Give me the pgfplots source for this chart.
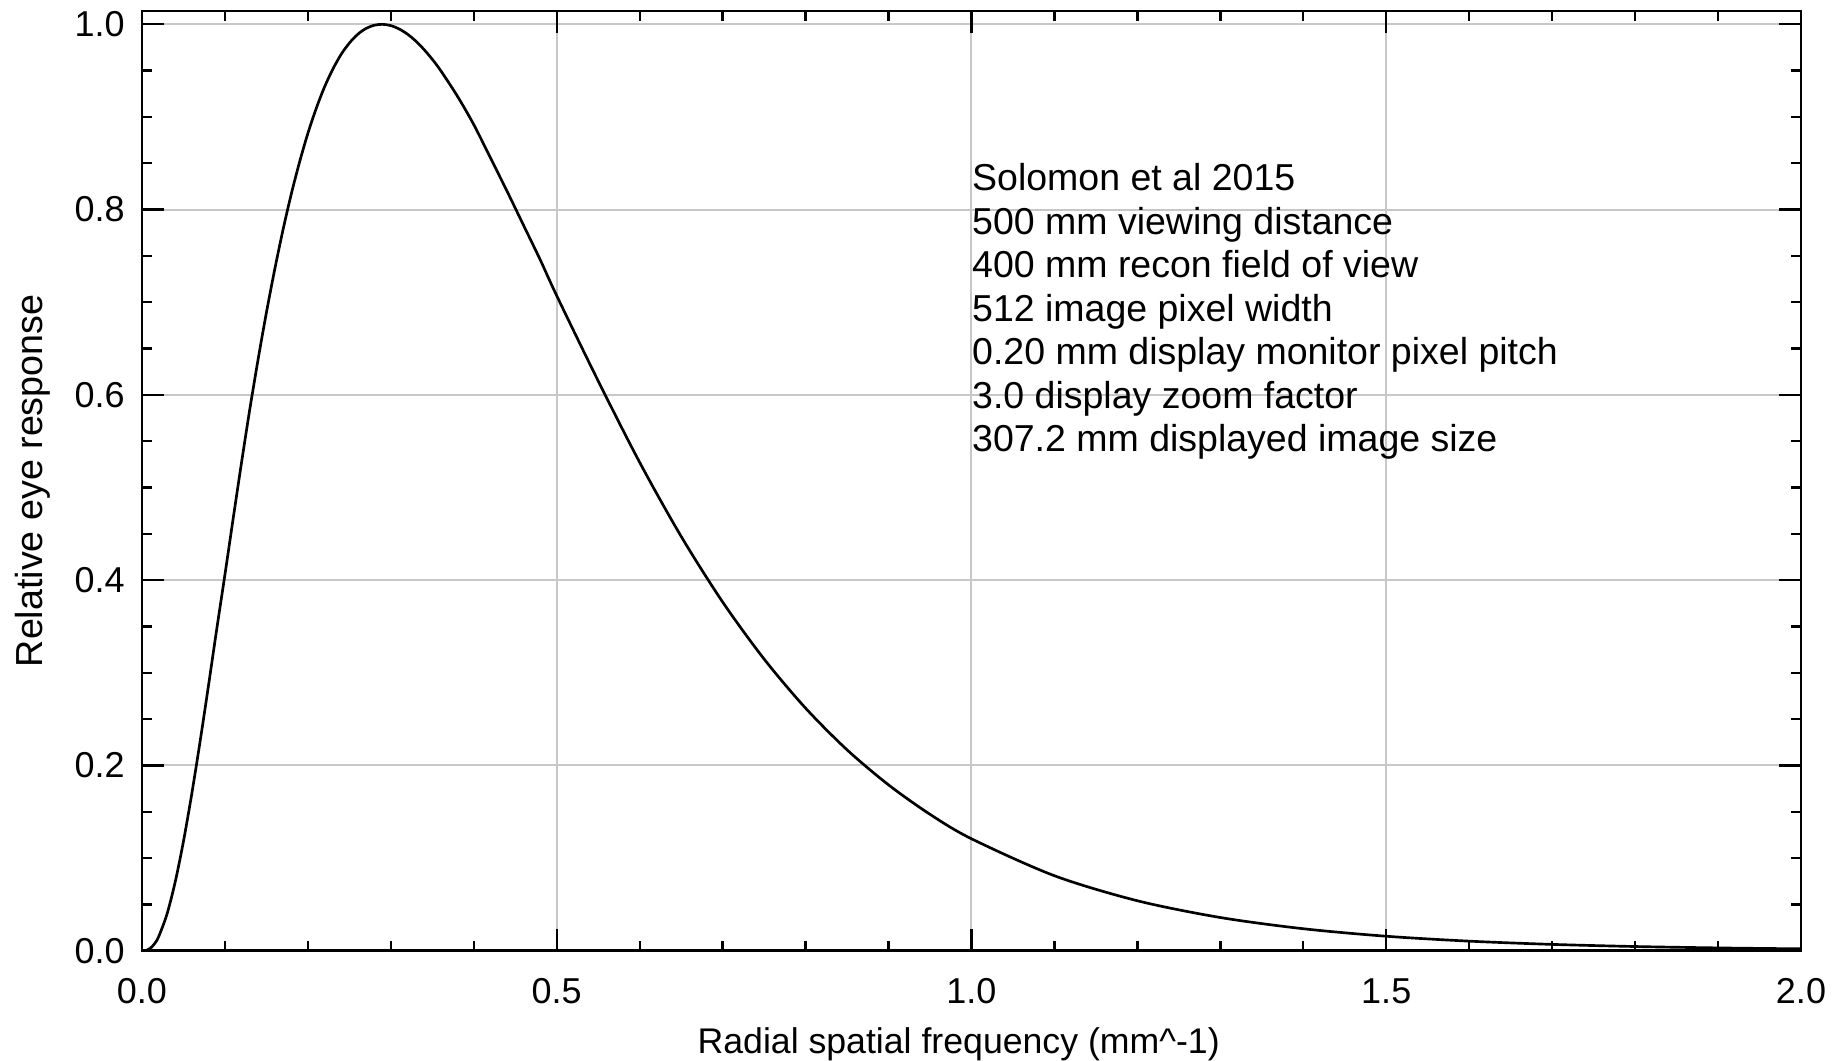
\documentclass[border=0pt]{standalone}
\usepackage{fontspec}
\setmainfont{Liberation Sans}
\usepackage{pgfplots}
\pgfplotsset{compat=1.18}
\usepackage{pgfplotstable}
\pgfplotstableread{
f v
0.000 0.0000
0.005 0.0004
0.010 0.0026
0.015 0.0074
0.020 0.0150
0.030 0.0391
0.040 0.0741
0.050 0.1181
0.060 0.1693
0.070 0.2256
0.080 0.2852
0.090 0.3465
0.100 0.4060
0.110 0.4670
0.120 0.5270
0.130 0.5847
0.140 0.6385
0.150 0.6889
0.160 0.7354
0.170 0.7782
0.180 0.8169
0.190 0.8515
0.200 0.8824
0.210 0.9091
0.220 0.9323
0.230 0.9515
0.240 0.9675
0.250 0.9798
0.260 0.9892
0.270 0.9955
0.280 0.9990
0.290 1.0000
0.300 0.9986
0.310 0.9950
0.320 0.9894
0.330 0.9820
0.340 0.9728
0.350 0.9622
0.360 0.9502
0.380 0.9228
0.400 0.8917
0.420 0.8560
0.440 0.8200
0.460 0.7830
0.480 0.7460
0.500 0.7070
0.550 0.6150
0.600 0.5271
0.650 0.4472
0.700 0.3764
0.750 0.3148
0.800 0.2618
0.850 0.2168
0.900 0.1790
0.950 0.1472
1.000 0.1208
1.100 0.0809
1.200 0.0539
1.300 0.0358
1.400 0.0237
1.500 0.0156
1.600 0.0103
1.700 0.0068
1.800 0.0045
1.900 0.0030
2.000 0.0020
}\eyedata
\begin{document}
\fontsize{10.8}{13.05}\selectfont
\begin{tikzpicture}
\begin{axis}[
  scale only axis,
  width=497.7pt, height=281.91pt,
  xmin=0, xmax=2, ymin=0, ymax=1.0144,
  xtick={0,0.5,1,1.5,2},
  xticklabels={0.0,0.5,1.0,1.5,2.0},
  ytick={0,0.2,0.4,0.6,0.8,1.0},
  yticklabels={0.0,0.2,0.4,0.6,0.8,1.0},
  minor x tick num=4,
  minor y tick num=3,
  tick align=inside,
  major tick length=6.6pt,
  minor tick length=2.9pt,
  every tick/.style={black, line width=0.7pt},
  axis line style={black, line width=0.85pt},
  grid=major,
  major grid style={black!22, line width=0.6pt},
  /pgf/number format/assume math mode=true,
  tick label style={font=\fontsize{10.8}{13}\selectfont},
  xticklabel style={anchor=north, inner sep=0pt, yshift=-8.1pt},
  yticklabel style={anchor=east, inner sep=0pt, xshift=-5.0pt},
  xlabel={Radial spatial frequency (mm\textasciicircum-1)},
  xlabel style={at={(axis description cs:0.3345,0)}, anchor=base west, inner sep=0pt, yshift=-30.8pt, font=\fontsize{10.7}{13}\selectfont},
  ylabel={Relative eye response},
  ylabel style={at={(axis description cs:-0.0599,0.5)}, anchor=base, inner sep=0pt, rotate=0, font=\fontsize{11.3}{13}\selectfont},
]
\addplot[black, line width=0.8pt, smooth, tension=0.5] table[x=f, y=v] {\eyedata};
\begin{scope}[every node/.style={anchor=base west, inner sep=0pt, font=\fontsize{11.25}{13}\selectfont}]
\node at (axis cs:1.0,0.8204) {Solomon et al 2015};
\node at (axis cs:1.0,0.7734) {500 mm viewing distance};
\node at (axis cs:1.0,0.7265) {400 mm recon field of view};
\node at (axis cs:1.0,0.6795) {512 image pixel width};
\node at (axis cs:1.0,0.6326) {0.20 mm display monitor pixel pitch};
\node at (axis cs:1.0,0.5856) {3.0 display zoom factor};
\node at (axis cs:1.0,0.5386) {307.2 mm displayed image size};
\end{scope}
\end{axis}
\pgfresetboundingbox
\useasboundingbox (-42.6pt,-33.09pt) rectangle (507.3pt,285.21pt);
\end{tikzpicture}
\end{document}
